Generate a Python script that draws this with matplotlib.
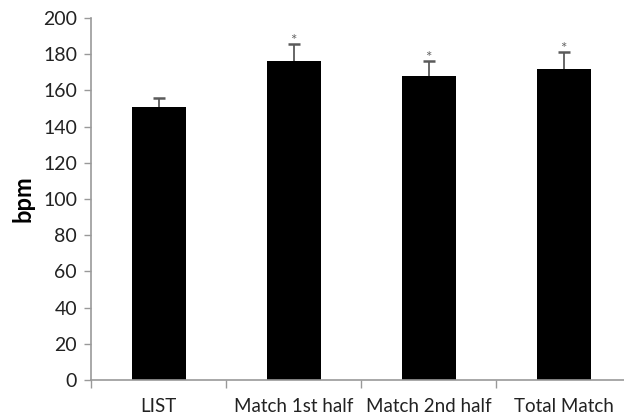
import matplotlib
matplotlib.use('Agg')
import numpy as np
import matplotlib.pyplot as plt

plt.rcParams['font.family'] = ['Lato', 'DejaVu Sans']

categories = ['LIST', 'Match 1st half', 'Match 2nd half', 'Total Match']
heart_rate = [151, 176, 168, 172]
sd_upper = [5, 9.5, 8, 9]
significant = [False, True, True, True]

fig = plt.figure(figsize=(6.24, 4.18), dpi=100)
# axis runs past the right edge of the figure
ax = fig.add_axes([91 / 624, 38 / 418, 540 / 624, 362 / 418])

x = np.arange(len(categories))
ax.bar(x, heart_rate, width=0.4, color='black', zorder=2)
eb = ax.errorbar(x, heart_rate, yerr=[np.zeros(len(x)), sd_upper], fmt='none',
                 ecolor='#5a5a5a', elinewidth=1.3, capsize=4, capthick=1.8,
                 zorder=3)
# only the upper cap is wanted
eb[1][0].set_visible(False)

for xi, v, e, s in zip(x, heart_rate, sd_upper, significant):
    if s:
        ax.text(xi, v + e - 2.0, '*', ha='center', va='bottom',
                fontsize=11, color='#666666')

ax.set_xlim(-0.5, 3.5)
ax.set_ylim(0, 200)
ax.set_yticks(range(0, 201, 20))

# tick marks between categories, labels at the centres
ax.set_xticks(np.arange(-0.5, 4, 1))
ax.set_xticklabels([])
ax.set_xticks(x, minor=True)
ax.set_xticklabels(categories, minor=True)
ax.tick_params(axis='x', which='major', length=6, color='#999999', width=1)
ax.tick_params(axis='x', which='minor', length=0, pad=13, labelsize=13.5,
               labelcolor='#222222')
ax.tick_params(axis='y', length=5, color='#999999', width=1, labelsize=14,
               labelcolor='#222222', pad=5)

for side in ['top', 'right']:
    ax.spines[side].set_visible(False)
for side in ['left', 'bottom']:
    ax.spines[side].set_color('#999999')
    ax.spines[side].set_linewidth(1.2)

ax.set_ylabel('bpm', fontsize=17, fontweight='bold', labelpad=6)

fig.savefig('out.png', dpi=100)
